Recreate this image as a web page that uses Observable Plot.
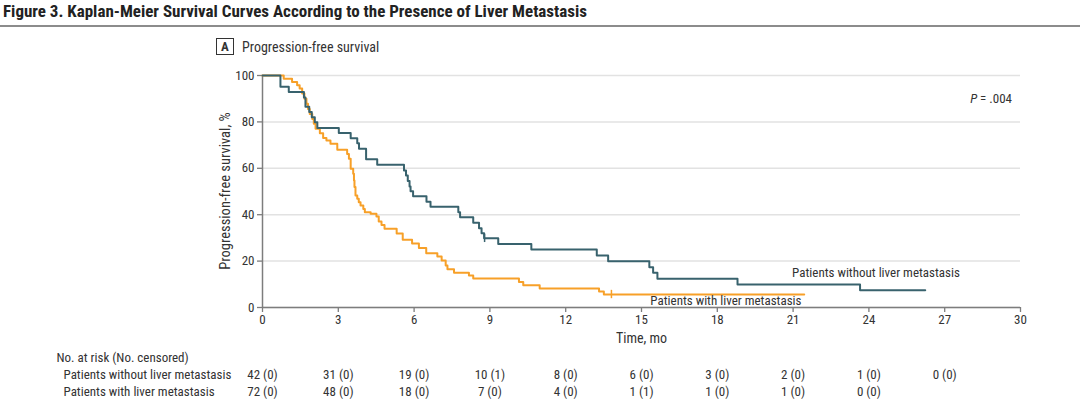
<!DOCTYPE html>
<html><head><meta charset="utf-8">
<script src="https://cdn.jsdelivr.net/npm/d3@7"></script>
<script src="https://cdn.jsdelivr.net/npm/@observablehq/plot@0.6"></script>
<style>
body{margin:0;background:#fff;font-family:Roboto,sans-serif;color:#333}
#wrap{position:relative;width:1080px;height:402px;overflow:hidden;font-stretch:75%}
#wrap svg, #wrap svg text{font-stretch:75%}
#title{position:absolute;left:3px;top:1px;font-size:17px;font-weight:700;color:#222;white-space:nowrap}
#rule{position:absolute;left:0;top:25px;width:1080px;height:2px;background:#8c8c8c}
#panel{position:absolute;left:216px;top:38px;display:flex;align-items:center;font-size:14px;color:#333}
#panel .box{width:16px;height:15px;border:1px solid #333;font-weight:700;font-size:13px;display:flex;align-items:center;justify-content:center;margin-right:8px}
#ylabel{position:absolute;left:225px;top:191px;transform:translate(-50%,-50%) rotate(-90deg);white-space:nowrap;font-size:14.5px;color:#333}
#pval{position:absolute;right:68px;top:91px;font-size:13px;color:#333;white-space:nowrap}
#chart{position:absolute;left:0;top:0}
#table{position:absolute;left:0;top:340px}
</style></head>
<body>
<div id="wrap">
  <div id="chart"></div>
  <div id="table"></div>
  <div id="title">Figure 3. Kaplan-Meier Survival Curves According to the Presence of Liver Metastasis</div>
  <div id="rule"></div>
  <div id="panel"><div class="box">A</div><div>Progression-free survival</div></div>
  <div id="ylabel">Progression-free survival, %</div>
  <div id="pval"><i>P</i> = .004</div>
</div>
<script>
// Patients without liver metastasis (n = 42): event times (mo) and survival (%)
const tWithout = [0, 0.71, 1.04, 1.64, 1.70, 1.85, 1.95, 2.07, 2.17, 3.02, 3.49, 3.75, 3.82, 4.10, 4.54, 5.60, 5.68, 5.75, 5.82, 5.86, 5.96, 6.49, 6.65, 7.75, 7.82, 8.34, 8.57, 8.67, 8.77, 9.33, 10.64, 13.23, 13.68, 15.31, 15.46, 15.63, 18.80, 23.65, 26.23];
const sWithout = [100, 95.2, 92.9, 90.5, 86.5, 84.3, 82.0, 79.8, 77.4, 75.2, 73.0, 70.8, 68.4, 63.9, 61.5, 59.1, 56.9, 54.5, 52.2, 50.1, 47.9, 45.6, 43.4, 41.1, 38.9, 36.5, 34.2, 32.0, 29.8, 27.4, 25.0, 22.4, 19.9, 17.4, 15.0, 12.4, 9.9, 7.4, 7.4];
// Patients with liver metastasis (n = 72)
const tWith = [0, 0.84, 1.17, 1.37, 1.47, 1.57, 1.66, 1.74, 1.80, 1.87, 1.97, 2.03, 2.10, 2.27, 2.40, 2.53, 2.69, 2.96, 3.35, 3.42, 3.49, 3.59, 3.62, 3.64, 3.68, 3.75, 3.81, 3.88, 3.99, 4.05, 4.28, 4.51, 4.60, 4.71, 4.83, 5.31, 5.55, 5.92, 6.19, 6.48, 6.92, 7.09, 7.25, 7.32, 7.58, 8.17, 8.34, 10.15, 10.32, 10.97, 13.32, 13.51, 21.44];
const sWith = [100, 98.6, 97.2, 95.8, 94.4, 92.2, 90.0, 87.8, 85.6, 83.4, 81.3, 79.2, 77.0, 75.1, 73.1, 72.0, 70.6, 68.0, 66.2, 64.1, 59.8, 57.6, 54.7, 51.9, 48.3, 46.9, 45.4, 44.0, 42.5, 41.1, 40.4, 39.2, 37.1, 35.6, 33.9, 31.9, 29.2, 27.6, 25.7, 23.4, 22.0, 20.3, 18.1, 16.5, 15.0, 13.8, 12.5, 11.0, 9.6, 8.2, 6.9, 5.6, 5.6];
// Censored observations
const censorWithoutT = [8.79], censorWithoutS = [29.8];
const censorWithT = [13.81], censorWithS = [5.6];

const xTicks = [0, 3, 6, 9, 12, 15, 18, 21, 24, 27, 30];
const yTicks = [0, 20, 40, 60, 80, 100];

const groupNames = ["Patients without liver metastasis", "Patients with liver metastasis"];
const riskTimes = [0, 3, 6, 9, 12, 15, 18, 21, 24, 27];
const riskWithout = ["42 (0)", "31 (0)", "19 (0)", "10 (1)", "8 (0)", "6 (0)", "3 (0)", "2 (0)", "1 (0)", "0 (0)"];
const riskWith = ["72 (0)", "48 (0)", "18 (0)", "7 (0)", "4 (0)", "1 (1)", "1 (0)", "1 (0)", "0 (0)"];

const colWithout = "#38626d";
const colWith = "#f7a028";
const axisCol = "#7d7d7d";
const font = "Roboto, sans-serif";

const withoutData = tWithout.map((t, i) => ({t, s: sWithout[i]}));
const withData = tWith.map((t, i) => ({t, s: sWith[i]}));
const censWithout = censorWithoutT.map((t, i) => ({t, s: censorWithoutS[i]}));
const censWith = censorWithT.map((t, i) => ({t, s: censorWithS[i]}));

const chart = Plot.plot({
  width: 1080, height: 345,
  marginTop: 75, marginBottom: 38, marginLeft: 262, marginRight: 60,
  style: {fontFamily: font, fontSize: "13px", color: "#333", background: "transparent"},
  x: {domain: [0, 30]},
  y: {domain: [0, 100]},
  marks: [
    Plot.gridY(yTicks, {stroke: "#e2e2e2", strokeOpacity: 1, strokeWidth: 1.5}),
    Plot.axisY(yTicks, {tickSize: 5, tickPadding: 3, stroke: axisCol, fill: "#333", label: null, fontSize: 13, strokeWidth: 1.3}),
    Plot.axisX(xTicks, {tickSize: 5, tickPadding: 2, stroke: axisCol, fill: "#333", label: null, fontSize: 13, strokeWidth: 1.3}),
    Plot.ruleX([0], {stroke: axisCol, strokeWidth: 1.5}),
    Plot.ruleY([0], {stroke: axisCol, strokeWidth: 1.5}),
    Plot.line(withData, {x: "t", y: "s", curve: "step-after", stroke: colWith, strokeWidth: 2}),
    Plot.line(withoutData, {x: "t", y: "s", curve: "step-after", stroke: colWithout, strokeWidth: 2}),
    Plot.ruleX(censWithout, {x: "t", y1: d => d.s - 1.8, y2: d => d.s + 1.8, stroke: colWithout, strokeWidth: 1.5}),
    Plot.ruleX(censWith, {x: "t", y1: d => d.s - 1.8, y2: d => d.s + 1.8, stroke: colWith, strokeWidth: 1.5}),
    Plot.text([groupNames[0]], {x: 20.96, y: 15.1, text: d => d, textAnchor: "start", fontSize: 13, fill: "#333"}),
    Plot.text([groupNames[1]], {x: 15.35, y: 2.8, text: d => d, textAnchor: "start", fontSize: 13, fill: "#333"}),
    Plot.text(["Time, mo"], {frameAnchor: "bottom", text: d => d, dy: 35, fontSize: 14, fill: "#333"})
  ]
});
document.getElementById("chart").append(chart);

const rows = ["header", "without", "with"];
const table = Plot.plot({
  width: 1080, height: 62,
  marginTop: 0, marginBottom: 0, marginLeft: 262, marginRight: 60,
  style: {fontFamily: font, fontSize: "13px", color: "#333", background: "transparent"},
  x: {domain: [0, 30], axis: null},
  y: {type: "point", domain: rows, range: [16, 51], padding: 0, axis: null},
  marks: [
    Plot.text(["No. at risk (No. censored)"], {x: () => 0, y: () => "header", text: d => d, textAnchor: "start", dx: -206, fontSize: 13, fill: "#333"}),
    Plot.text([groupNames[0]], {x: () => 0, y: () => "without", text: d => d, textAnchor: "start", dx: -199, fontSize: 13, fill: "#333"}),
    Plot.text([groupNames[1]], {x: () => 0, y: () => "with", text: d => d, textAnchor: "start", dx: -199, fontSize: 13, fill: "#333"}),
    Plot.text(riskTimes, {x: d => d, y: () => "without", text: (d, i) => riskWithout[i], fontSize: 13, fill: "#333"}),
    Plot.text(riskTimes.slice(0, riskWith.length), {x: d => d, y: () => "with", text: (d, i) => riskWith[i], fontSize: 13, fill: "#333"})
  ]
});
document.getElementById("table").append(table);
</script>
</body></html>
